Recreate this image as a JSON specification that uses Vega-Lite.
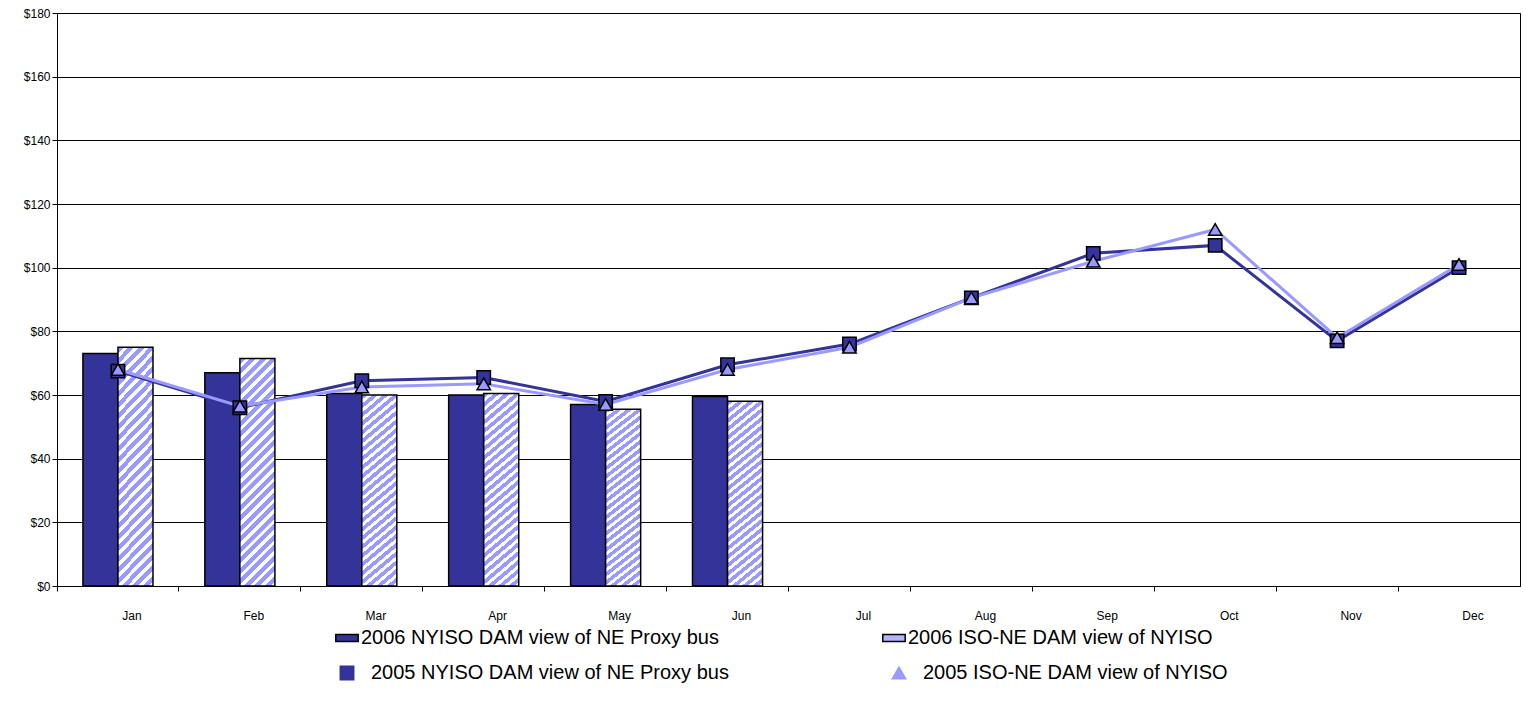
{
  "$schema": "https://vega.github.io/schema/vega-lite/v6.json",
  "autosize": "none",
  "width": 1463,
  "height": 573,
  "padding": {"left": 57, "top": 13, "right": 6, "bottom": 123},
  "config": {
    "font": "Liberation Sans",
    "view": {"stroke": "black", "strokeWidth": 1},
    "axis": {"labelFont": "Liberation Sans", "labelFontSize": 12, "labelColor": "black", "domainColor": "black", "tickColor": "black"},
    "legend": {"labelLimit": 0, "padding": 0}
  },
  "datasets": {
    "bars": [
      {"month": "Jan", "series": "2006 NYISO DAM view of NE Proxy bus", "value": 73},
      {"month": "Jan", "series": "2006 ISO-NE DAM view of NYISO", "value": 75},
      {"month": "Feb", "series": "2006 NYISO DAM view of NE Proxy bus", "value": 67},
      {"month": "Feb", "series": "2006 ISO-NE DAM view of NYISO", "value": 71.5},
      {"month": "Mar", "series": "2006 NYISO DAM view of NE Proxy bus", "value": 60.5},
      {"month": "Mar", "series": "2006 ISO-NE DAM view of NYISO", "value": 60},
      {"month": "Apr", "series": "2006 NYISO DAM view of NE Proxy bus", "value": 60},
      {"month": "Apr", "series": "2006 ISO-NE DAM view of NYISO", "value": 60.5},
      {"month": "May", "series": "2006 NYISO DAM view of NE Proxy bus", "value": 57},
      {"month": "May", "series": "2006 ISO-NE DAM view of NYISO", "value": 55.5},
      {"month": "Jun", "series": "2006 NYISO DAM view of NE Proxy bus", "value": 59.5},
      {"month": "Jun", "series": "2006 ISO-NE DAM view of NYISO", "value": 58}
    ],
    "lines": [
      {"month": "Jan", "series": "2005 NYISO DAM view of NE Proxy bus", "value": 67.5},
      {"month": "Feb", "series": "2005 NYISO DAM view of NE Proxy bus", "value": 56},
      {"month": "Mar", "series": "2005 NYISO DAM view of NE Proxy bus", "value": 64.5},
      {"month": "Apr", "series": "2005 NYISO DAM view of NE Proxy bus", "value": 65.5},
      {"month": "May", "series": "2005 NYISO DAM view of NE Proxy bus", "value": 58},
      {"month": "Jun", "series": "2005 NYISO DAM view of NE Proxy bus", "value": 69.5},
      {"month": "Jul", "series": "2005 NYISO DAM view of NE Proxy bus", "value": 76},
      {"month": "Aug", "series": "2005 NYISO DAM view of NE Proxy bus", "value": 90.5},
      {"month": "Sep", "series": "2005 NYISO DAM view of NE Proxy bus", "value": 104.5},
      {"month": "Oct", "series": "2005 NYISO DAM view of NE Proxy bus", "value": 107},
      {"month": "Nov", "series": "2005 NYISO DAM view of NE Proxy bus", "value": 77},
      {"month": "Dec", "series": "2005 NYISO DAM view of NE Proxy bus", "value": 100},
      {"month": "Jan", "series": "2005 ISO-NE DAM view of NYISO", "value": 68},
      {"month": "Feb", "series": "2005 ISO-NE DAM view of NYISO", "value": 56.5},
      {"month": "Mar", "series": "2005 ISO-NE DAM view of NYISO", "value": 62.5},
      {"month": "Apr", "series": "2005 ISO-NE DAM view of NYISO", "value": 63.5},
      {"month": "May", "series": "2005 ISO-NE DAM view of NYISO", "value": 57},
      {"month": "Jun", "series": "2005 ISO-NE DAM view of NYISO", "value": 68},
      {"month": "Jul", "series": "2005 ISO-NE DAM view of NYISO", "value": 75},
      {"month": "Aug", "series": "2005 ISO-NE DAM view of NYISO", "value": 90.5},
      {"month": "Sep", "series": "2005 ISO-NE DAM view of NYISO", "value": 102},
      {"month": "Oct", "series": "2005 ISO-NE DAM view of NYISO", "value": 112},
      {"month": "Nov", "series": "2005 ISO-NE DAM view of NYISO", "value": 78},
      {"month": "Dec", "series": "2005 ISO-NE DAM view of NYISO", "value": 101}
    ]
  },
  "encoding": {
    "x": {
      "field": "month", "type": "nominal",
      "scale": {"domain": ["Jan","Feb","Mar","Apr","May","Jun","Jul","Aug","Sep","Oct","Nov","Dec"], "paddingInner": 0, "paddingOuter": 0},
      "axis": {"title": null, "labelAngle": 0, "labelPadding": 19, "labelOffset": 14, "tickSize": 5, "bandPosition": 0, "grid": false}
    },
    "y": {
      "field": "value", "type": "quantitative",
      "scale": {"domain": [0, 180], "nice": false},
      "axis": {"title": null, "values": [0,20,40,60,80,100,120,140,160,180], "format": "$,.0f", "gridColor": "black", "gridOpacity": 1, "tickSize": 5}
    }
  },
  "layer": [
    {
      "data": {"name": "bars"},
      "transform": [{"filter": "datum.series === '2006 NYISO DAM view of NE Proxy bus'"}],
      "mark": {"type": "bar", "stroke": "black", "strokeWidth": 1.5},
      "encoding": {
        "xOffset": {"field": "series", "type": "nominal", "scale": {"domain": ["2006 NYISO DAM view of NE Proxy bus", "2006 ISO-NE DAM view of NYISO"], "paddingInner": 0, "paddingOuter": 0.74}},
        "fill": {
          "field": "series", "type": "nominal",
          "scale": {"domain": ["2006 NYISO DAM view of NE Proxy bus", "2006 ISO-NE DAM view of NYISO"], "range": ["#333399", "#b3b3ff"]},
          "legend": {"title": null, "orient": "none", "legendX": 280, "legendY": 615, "direction": "horizontal", "columnPadding": 160, "symbolType": "M-1.6,-0.5H1.6V0.5H-1.6Z", "symbolSize": 196, "symbolStrokeColor": "black", "symbolStrokeWidth": 1.5, "labelFontSize": 20, "labelOffset": 4, "labelFont": "Liberation Sans", "labelColor": "black"}
        }
      }
    },
    {
      "data": {"name": "bars"},
      "transform": [{"filter": "datum.series === '2006 ISO-NE DAM view of NYISO'"}],
      "mark": {"type": "bar", "stroke": "black", "strokeWidth": 1.5,
        "fill": {"gradient": "linear", "x1": 0, "y1": 0, "x2": 0.173, "y2": 1.127, "stops": [
          {"offset": 0.00, "color": "#9999ff"}, {"offset": 0.022, "color": "#9999ff"}, {"offset": 0.022, "color": "white"}, {"offset": 0.04, "color": "white"},
          {"offset": 0.04, "color": "#9999ff"}, {"offset": 0.062, "color": "#9999ff"}, {"offset": 0.062, "color": "white"}, {"offset": 0.08, "color": "white"},
          {"offset": 0.08, "color": "#9999ff"}, {"offset": 0.102, "color": "#9999ff"}, {"offset": 0.102, "color": "white"}, {"offset": 0.12, "color": "white"},
          {"offset": 0.12, "color": "#9999ff"}, {"offset": 0.142, "color": "#9999ff"}, {"offset": 0.142, "color": "white"}, {"offset": 0.16, "color": "white"},
          {"offset": 0.16, "color": "#9999ff"}, {"offset": 0.182, "color": "#9999ff"}, {"offset": 0.182, "color": "white"}, {"offset": 0.20, "color": "white"},
          {"offset": 0.20, "color": "#9999ff"}, {"offset": 0.222, "color": "#9999ff"}, {"offset": 0.222, "color": "white"}, {"offset": 0.24, "color": "white"},
          {"offset": 0.24, "color": "#9999ff"}, {"offset": 0.262, "color": "#9999ff"}, {"offset": 0.262, "color": "white"}, {"offset": 0.28, "color": "white"},
          {"offset": 0.28, "color": "#9999ff"}, {"offset": 0.302, "color": "#9999ff"}, {"offset": 0.302, "color": "white"}, {"offset": 0.32, "color": "white"},
          {"offset": 0.32, "color": "#9999ff"}, {"offset": 0.342, "color": "#9999ff"}, {"offset": 0.342, "color": "white"}, {"offset": 0.36, "color": "white"},
          {"offset": 0.36, "color": "#9999ff"}, {"offset": 0.382, "color": "#9999ff"}, {"offset": 0.382, "color": "white"}, {"offset": 0.40, "color": "white"},
          {"offset": 0.40, "color": "#9999ff"}, {"offset": 0.422, "color": "#9999ff"}, {"offset": 0.422, "color": "white"}, {"offset": 0.44, "color": "white"},
          {"offset": 0.44, "color": "#9999ff"}, {"offset": 0.462, "color": "#9999ff"}, {"offset": 0.462, "color": "white"}, {"offset": 0.48, "color": "white"},
          {"offset": 0.48, "color": "#9999ff"}, {"offset": 0.502, "color": "#9999ff"}, {"offset": 0.502, "color": "white"}, {"offset": 0.52, "color": "white"},
          {"offset": 0.52, "color": "#9999ff"}, {"offset": 0.542, "color": "#9999ff"}, {"offset": 0.542, "color": "white"}, {"offset": 0.56, "color": "white"},
          {"offset": 0.56, "color": "#9999ff"}, {"offset": 0.582, "color": "#9999ff"}, {"offset": 0.582, "color": "white"}, {"offset": 0.60, "color": "white"},
          {"offset": 0.60, "color": "#9999ff"}, {"offset": 0.622, "color": "#9999ff"}, {"offset": 0.622, "color": "white"}, {"offset": 0.64, "color": "white"},
          {"offset": 0.64, "color": "#9999ff"}, {"offset": 0.662, "color": "#9999ff"}, {"offset": 0.662, "color": "white"}, {"offset": 0.68, "color": "white"},
          {"offset": 0.68, "color": "#9999ff"}, {"offset": 0.702, "color": "#9999ff"}, {"offset": 0.702, "color": "white"}, {"offset": 0.72, "color": "white"},
          {"offset": 0.72, "color": "#9999ff"}, {"offset": 0.742, "color": "#9999ff"}, {"offset": 0.742, "color": "white"}, {"offset": 0.76, "color": "white"},
          {"offset": 0.76, "color": "#9999ff"}, {"offset": 0.782, "color": "#9999ff"}, {"offset": 0.782, "color": "white"}, {"offset": 0.80, "color": "white"},
          {"offset": 0.80, "color": "#9999ff"}, {"offset": 0.822, "color": "#9999ff"}, {"offset": 0.822, "color": "white"}, {"offset": 0.84, "color": "white"},
          {"offset": 0.84, "color": "#9999ff"}, {"offset": 0.862, "color": "#9999ff"}, {"offset": 0.862, "color": "white"}, {"offset": 0.88, "color": "white"},
          {"offset": 0.88, "color": "#9999ff"}, {"offset": 0.902, "color": "#9999ff"}, {"offset": 0.902, "color": "white"}, {"offset": 0.92, "color": "white"},
          {"offset": 0.92, "color": "#9999ff"}, {"offset": 0.942, "color": "#9999ff"}, {"offset": 0.942, "color": "white"}, {"offset": 0.96, "color": "white"},
          {"offset": 0.96, "color": "#9999ff"}, {"offset": 0.982, "color": "#9999ff"}, {"offset": 0.982, "color": "white"}, {"offset": 1.0, "color": "white"}
        ]}},
      "encoding": {
        "xOffset": {"field": "series", "type": "nominal", "scale": {"domain": ["2006 NYISO DAM view of NE Proxy bus", "2006 ISO-NE DAM view of NYISO"], "paddingInner": 0, "paddingOuter": 0.74}}
      }
    },
    {
      "data": {"name": "lines"},
      "mark": {"type": "line", "strokeWidth": 3, "point": {"filled": true, "size": 180, "stroke": "black", "strokeWidth": 1.5}},
      "encoding": {
        "color": {
          "field": "series", "type": "nominal",
          "scale": {"domain": ["2005 NYISO DAM view of NE Proxy bus", "2005 ISO-NE DAM view of NYISO"], "range": ["#333399", "#9999ff"]},
          "legend": {"title": null, "orient": "none", "legendX": 280, "legendY": 650, "direction": "horizontal", "columnPadding": 160, "symbolSize": 180, "labelFontSize": 20, "labelOffset": 14, "labelFont": "Liberation Sans", "labelColor": "black"}
        },
        "shape": {
          "field": "series", "type": "nominal",
          "scale": {"domain": ["2005 NYISO DAM view of NE Proxy bus", "2005 ISO-NE DAM view of NYISO"], "range": ["square", "triangle-up"]},
          "legend": null
        }
      }
    }
  ]
}
